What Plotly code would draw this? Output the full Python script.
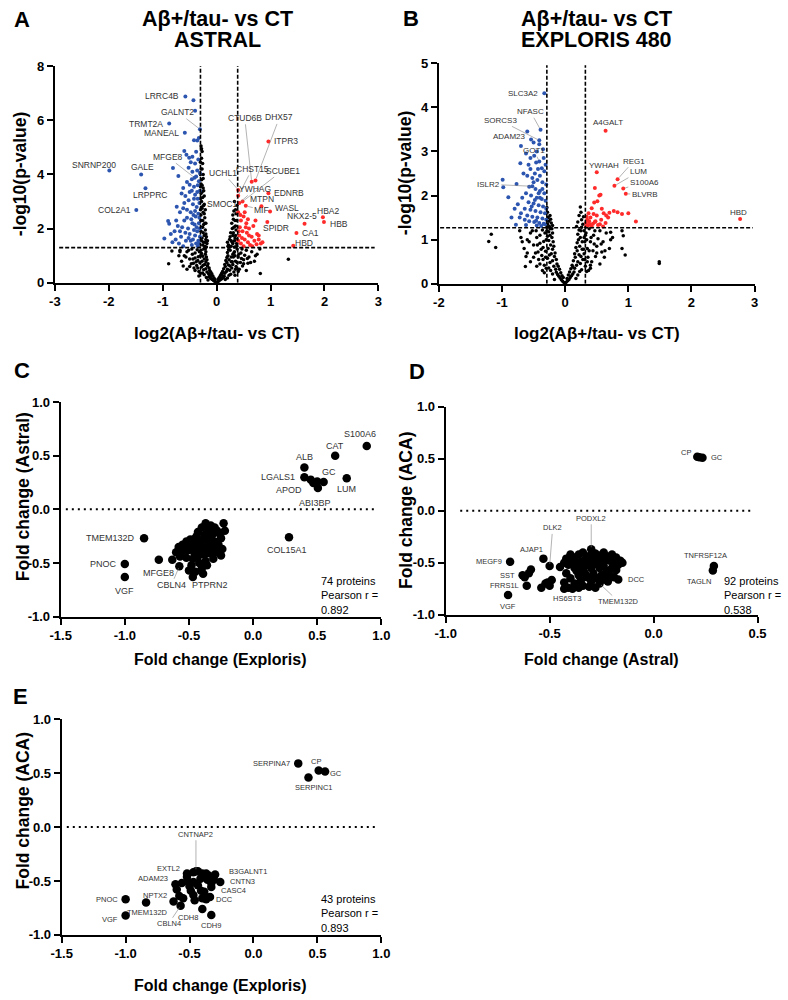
import plotly.graph_objects as go

# ======================= DATA =======================
# ---- Panel A: ASTRAL volcano (log2 FC, -log10 p) ----
A_black = [
    (0.00,0.01),(0.02,0.04),(-0.02,0.03),(0.04,0.07),(-0.04,0.06),(0.06,0.10),(-0.06,0.09),(0.08,0.13),
    (-0.08,0.12),(0.10,0.16),(-0.10,0.15),(0.12,0.20),(-0.12,0.19),(0.14,0.24),(-0.14,0.23),(0.05,0.20),
    (-0.05,0.18),(0.10,0.28),(-0.11,0.27),(0.16,0.12),(-0.16,0.10),(0.20,0.18),(-0.19,0.20),(0.03,0.14),(-0.03,0.12),
    (0.15,0.35),(-0.15,0.33),(0.18,0.42),(-0.18,0.40),(0.12,0.38),(-0.13,0.45),(0.20,0.50),(-0.20,0.52),
    (0.24,0.46),(-0.24,0.48),(0.28,0.55),(-0.28,0.58),(0.16,0.60),(-0.17,0.62),(0.22,0.66),(-0.22,0.68),
    (0.32,0.40),(-0.33,0.42),(0.36,0.60),(-0.37,0.64),(0.42,0.50),(-0.42,0.55),(0.30,0.68),(-0.30,0.35),
    (0.26,0.32),(-0.26,0.36),(0.48,0.62),(-0.50,0.60),(0.55,0.45),(-0.55,0.50),
    (0.19,0.75),(-0.20,0.78),(0.23,0.85),(-0.23,0.88),(0.27,0.95),(-0.26,0.98),(0.30,1.05),(-0.28,1.08),
    (0.33,1.15),(-0.29,1.20),(0.21,1.00),(-0.21,1.05),(0.25,1.20),(-0.24,1.25),(0.35,0.80),(-0.35,0.82),
    (0.40,0.95),(-0.40,0.92),(0.45,1.10),(-0.45,1.05),(0.50,0.85),(-0.50,0.88),(0.55,1.20),(-0.55,1.15),
    (0.60,0.95),(-0.60,1.00),(0.38,1.25),(-0.36,1.22),(0.65,1.15),(-0.68,1.15),(0.70,0.80),(-0.65,0.80),
    (0.29,0.78),(-0.31,0.74),(0.44,0.75),(-0.43,0.72),(0.52,1.02),(-0.52,1.20),(0.34,1.00),(-0.34,0.96),
    (0.58,0.72),(0.75,1.05),(0.80,1.25),
    (-0.07,0.25),(0.07,0.27),(-0.09,0.33),(0.09,0.34),(-0.11,0.40),(0.11,0.42),(-0.14,0.55),(0.13,0.52),
    (-0.16,0.70),(0.15,0.68),(-0.18,0.85),(0.17,0.82),(-0.19,0.95),(0.19,0.93),(-0.20,1.15),(0.20,1.12),
    (-0.21,1.25),(0.22,1.22),(-0.25,0.65),(0.25,0.62),(-0.27,0.80),(0.27,0.78),(-0.30,1.00),(0.31,0.95),
    (-0.32,1.15),(0.32,1.10),(-0.35,0.55),(0.35,0.50),(-0.38,0.78),(0.38,0.75),(-0.40,1.10),(0.41,1.05),
    (-0.44,0.88),(0.46,0.90),(-0.47,0.70),(0.50,0.70),(-0.33,0.25),(0.34,0.28),(-0.23,0.30),(0.23,0.28),
    (-0.40,0.45),(0.40,0.42),(-0.46,1.25),(0.47,1.25),(-0.57,0.95),(0.57,0.90),(-0.62,0.62),(0.63,0.75),
    (-0.70,1.00),(0.72,1.00),
    (1.33,0.87),(0.81,0.34),(-0.89,0.70),(-0.83,1.17),(-0.68,1.20),
    (-0.29,5.05),(-0.27,4.85),(-0.28,4.60),(-0.26,4.40),(-0.29,4.20),(-0.25,4.00),(-0.28,3.80),(-0.27,3.60),
    (-0.24,3.40),(-0.29,3.30),(-0.26,3.15),(-0.28,3.00),(-0.23,2.90),(-0.27,2.75),(-0.25,2.60),(-0.29,2.50),
    (-0.22,2.40),(-0.26,2.30),(-0.24,2.15),(-0.28,2.05),(-0.21,1.95),(-0.25,1.85),(-0.23,1.75),(-0.27,1.65),
    (-0.20,1.60),(-0.24,1.50),(-0.18,1.45),(-0.22,1.35),(-0.26,1.40),(-0.19,1.32),(-0.28,1.55),(-0.20,1.80),
    (-0.22,2.20),(-0.26,2.05),(-0.28,2.80),(-0.25,3.50),
    (-0.27,4.20),(-0.25,3.85),(-0.29,3.65),(-0.23,3.20),(-0.27,3.35),(-0.21,2.70),(-0.24,2.85),(-0.20,2.20),
    (-0.23,2.55),(-0.19,1.70),(-0.17,1.55),(-0.21,1.50),(-0.29,1.90),(-0.29,2.30),(-0.30,2.70),(-0.30,3.10),
    (-0.30,3.55),(-0.30,4.00),(-0.30,4.45),(-0.28,4.95),
    (0.33,3.00),(0.35,2.70),(0.30,2.50),(0.34,2.30),(0.28,2.20),(0.32,2.05),(0.36,1.95),(0.26,1.85),
    (0.30,1.75),(0.34,1.65),(0.24,1.60),(0.29,1.50),(0.37,1.45),(0.22,1.40),(0.27,1.35),(0.33,1.32),
    (0.20,1.50),(0.25,1.70),(0.31,2.35),(0.36,2.55),(0.30,1.45),(0.23,1.32),
    (0.35,2.10),(0.37,2.30),(0.31,1.85),(0.27,1.55),(0.21,1.35),(0.33,1.55),(0.35,1.75),(0.37,1.35),
    (0.29,2.00),(0.32,2.65),(0.38,2.85),(0.38,1.60),
]
A_down = [
    (-0.43,6.74),(-0.40,6.35),(-0.42,5.26),(-0.36,5.25),(-0.38,4.84),(-0.33,5.35),(-0.60,4.87),(-0.56,4.73),
    (-0.51,4.62),(-0.45,4.65),(-0.34,4.55),(-0.48,4.45),(-0.40,4.40),
    (-0.81,4.24),(-0.71,3.94),(-0.52,4.25),(-0.45,4.10),(-0.36,4.15),(-0.55,3.72),(-0.50,3.62),(-0.38,3.92),
    (-0.33,3.75),(-0.42,3.55),(-0.62,3.50),(-0.46,3.82),(-0.31,4.05),(-0.35,3.60),
    (-0.74,2.81),(-0.65,3.30),(-0.58,3.20),(-0.52,3.05),(-0.46,3.40),(-0.40,3.25),(-0.35,3.10),(-0.32,2.95),
    (-0.44,2.90),(-0.37,2.80),(-0.55,2.70),(-0.48,2.60),(-0.62,2.75),(-0.68,2.60),(-0.40,2.65),(-0.34,2.55),
    (-0.31,3.40),(-0.50,3.35),(-0.42,3.10),(-0.60,2.95),(-0.36,3.35),
    (-0.97,1.64),(-0.90,2.28),(-0.88,2.18),(-0.82,1.50),(-0.78,1.90),(-0.72,2.10),(-0.66,1.70),(-0.60,2.30),
    (-0.57,1.55),(-0.53,2.00),(-0.50,1.80),(-0.47,2.35),(-0.44,1.60),(-0.41,2.15),(-0.38,1.45),(-0.36,1.90),
    (-0.33,2.20),(-0.31,1.70),(-0.35,1.35),(-0.42,1.95),(-0.46,1.40),(-0.52,1.65),(-0.58,1.85),(-0.64,2.05),
    (-0.70,1.45),(-0.76,1.60),(-0.85,1.80),(-0.32,2.40),(-0.39,2.45),(-0.45,2.20),(-0.55,2.40),(-0.34,1.55),
    (-0.31,2.00),(-0.37,2.05),(-0.40,1.75),(-0.48,1.55),(-0.62,1.35),(-0.68,1.90),(-0.75,2.30),(-0.33,1.45),
    (-0.43,2.50),
]
A_up = [
    (0.45,2.30),(0.50,2.45),(0.55,2.20),(0.60,2.00),(0.48,1.90),(0.42,1.75),(0.52,1.60),(0.58,1.50),
    (0.65,1.70),(0.70,1.55),(0.75,1.80),(0.78,1.60),(0.62,1.40),(0.45,1.45),(0.68,2.10),(0.56,1.85),
    (0.72,2.30),(0.43,2.05),(0.50,1.35),(0.40,1.55),(0.82,1.45),(0.66,1.35),(0.54,2.05),(0.47,1.65),
    (0.60,1.75),(0.74,1.42),(0.58,2.35),(0.44,2.50),(0.78,1.75),(0.85,1.50),(0.41,1.90),(0.52,2.60),
]
A_named = [
    ("LRRC4B",-0.58,6.88,"down"),("GALNT2",-0.31,5.67,"down"),("TRMT2A",-0.88,5.88,"down"),
    ("MANEAL",-0.59,5.54,"down"),("MFGE8",-0.41,3.88,"down"),("SNRNP200",-1.99,4.15,"down"),
    ("GALE",-1.40,4.00,"down"),("LRPPRC",-1.32,3.49,"down"),("COL2A1",-1.49,2.69,"down"),
    ("CTUD6B",0.65,3.73,"up"),("DHX57",0.72,3.78,"up"),("ITPR3",0.96,5.22,"up"),
    ("UCHL1",0.40,3.43,"up"),("CHST15",0.40,3.21,"up"),("SCUBE1",0.48,3.00,"up"),
    ("YWHAG",0.42,2.95,"up"),("EDNRB",0.96,3.31,"up"),("MTPN",0.83,2.83,"up"),
    ("MIF",0.54,2.84,"up"),("WASL",0.99,2.63,"up"),("SMOC1",0.40,2.60,"up"),
    ("SPIDR",0.94,2.24,"up"),("NKX2-5",1.63,2.18,"up"),("HBA2",1.97,2.42,"up"),
    ("HBB",1.99,2.24,"up"),("CA1",1.48,1.84,"up"),("HBD",1.42,1.37,"up"),
]
A_fc_cut = [-0.30, 0.39]
A_p_cut = 1.30

# ---- Panel B: EXPLORIS 480 volcano ----
B_black = [
    (0.00,0.01),(0.02,0.04),(-0.02,0.03),(0.04,0.07),(-0.04,0.06),(0.06,0.10),(-0.06,0.09),(0.08,0.14),
    (-0.08,0.13),(0.10,0.18),(-0.10,0.17),(0.12,0.22),(-0.12,0.21),(0.14,0.27),(-0.14,0.26),(0.05,0.20),
    (-0.05,0.18),(0.17,0.12),(-0.17,0.10),(0.20,0.20),(-0.20,0.22),(0.03,0.12),(-0.03,0.14),
    (0.15,0.35),(-0.15,0.33),(0.18,0.42),(-0.18,0.40),(0.12,0.38),(-0.13,0.45),(0.20,0.50),(-0.20,0.52),
    (0.24,0.46),(-0.24,0.48),(0.28,0.55),(-0.28,0.58),(0.16,0.60),(-0.17,0.62),(0.22,0.66),(-0.22,0.68),
    (0.32,0.40),(-0.33,0.42),(0.36,0.60),(-0.37,0.64),(0.42,0.50),(-0.42,0.55),(0.30,0.68),(-0.30,0.35),
    (0.26,0.32),(-0.26,0.36),(0.48,0.62),(-0.50,0.60),(0.55,0.45),(-0.55,0.50),(0.40,0.35),(-0.45,0.40),
    (0.19,0.75),(-0.20,0.78),(0.23,0.85),(-0.23,0.88),(0.27,0.95),(-0.26,0.98),(0.30,1.05),(-0.28,1.08),
    (0.33,1.15),(-0.29,1.20),(0.21,1.00),(-0.21,1.05),(0.25,1.20),(-0.24,1.25),(0.35,0.80),(-0.35,0.82),
    (0.40,0.95),(-0.40,0.92),(0.45,1.10),(-0.45,1.05),(0.50,0.85),(-0.50,0.88),(0.55,1.20),(-0.55,1.15),
    (0.60,0.95),(-0.60,1.00),(0.38,1.25),(-0.36,1.22),(0.65,1.15),(-0.68,0.95),(0.70,0.80),(-0.65,0.80),
    (0.29,0.78),(-0.31,0.74),(0.44,0.75),(-0.43,0.72),(0.52,1.02),(-0.52,1.20),(0.34,1.00),(-0.34,0.96),
    (0.58,0.72),(0.75,1.05),(-0.72,1.20),(0.62,0.60),(-0.60,0.70),
    (-0.07,0.25),(0.07,0.27),(-0.09,0.33),(0.09,0.34),(-0.11,0.40),(0.11,0.42),(-0.14,0.55),(0.13,0.52),
    (-0.16,0.70),(0.15,0.68),(-0.18,0.85),(0.17,0.82),(-0.19,0.95),(0.19,0.93),(-0.20,1.15),(0.20,1.12),
    (-0.21,1.25),(0.22,1.22),(-0.25,0.65),(0.25,0.62),(-0.27,0.80),(0.27,0.78),(-0.30,1.00),(0.31,0.95),
    (-0.32,1.15),(0.32,1.10),(-0.35,0.55),(0.35,0.50),(-0.38,0.78),(0.38,0.75),(-0.40,1.10),(0.41,1.05),
    (-0.44,0.88),(0.46,0.90),(-0.47,0.70),(0.50,0.70),(-0.33,0.25),(0.34,0.28),(-0.23,0.30),(0.23,0.28),
    (-0.40,0.45),(0.40,0.42),(-0.46,1.20),(0.47,1.20),(-0.57,0.95),(0.57,0.90),(-0.62,0.62),(0.63,0.75),
    (-0.70,1.05),(0.72,1.00),(-0.26,1.18),(-0.29,1.28),(0.30,1.20),(0.26,1.28),(-0.24,1.10),(0.24,1.05),
    (-0.31,0.60),(0.31,0.55),(-0.36,0.30),(0.37,0.30),
    (-1.17,1.12),(-1.21,0.96),(-1.10,0.82),(-0.63,0.39),(1.49,0.50),(1.49,0.46),(0.90,0.80),(0.95,0.65),
    (0.92,1.09),(0.72,1.17),(0.90,1.20),
    (-0.28,1.35),(-0.26,1.42),(-0.22,1.38),(-0.27,1.50),(-0.24,1.55),(-0.28,1.62),(-0.29,1.73),(-0.25,1.30),
    (-0.20,1.32),(-0.23,1.46),
    (0.24,1.74),(0.22,1.55),(0.26,1.45),(0.28,1.35),(0.20,1.40),(0.18,1.30),(0.25,1.62),(0.29,1.52),
]
B_down = [
    (-0.60,3.45),(-0.50,3.20),(-0.70,3.12),(-0.41,3.16),
    (-0.99,2.36),(-0.98,2.19),(-0.90,1.96),(-0.77,2.26),(-0.75,1.80),(-0.78,1.34),(-0.71,2.73),(-0.72,1.50),
    (-0.45,3.00),(-0.35,3.05),(-0.62,2.95),(-0.46,2.75),(-0.55,2.60),(-0.48,2.50),(-0.40,2.45),(-0.33,2.55),
    (-0.60,2.45),(-0.52,2.40),(-0.44,2.35),(-0.36,2.30),(-0.30,2.25),(-0.57,2.20),(-0.47,2.15),(-0.40,2.10),
    (-0.33,2.05),(-0.62,2.05),(-0.54,2.00),(-0.45,1.95),(-0.37,1.92),(-0.31,1.88),(-0.58,1.85),(-0.50,1.82),
    (-0.42,1.78),(-0.35,1.75),(-0.64,1.70),(-0.55,1.68),(-0.47,1.65),(-0.39,1.62),(-0.32,1.60),(-0.60,1.55),
    (-0.52,1.52),(-0.44,1.50),(-0.36,1.48),(-0.30,1.45),(-0.57,1.42),(-0.49,1.40),(-0.41,1.38),(-0.34,1.36),
    (-0.62,1.33),(-0.45,1.32),(-0.38,1.31),(-0.66,2.50),(-0.85,1.50),(-0.68,1.95),(-0.58,2.70),(-0.43,2.60),
    (-0.31,2.70),(-0.49,2.90),(-0.37,2.62),(-0.53,1.75),(-0.46,1.43),(-0.32,1.35),(-0.40,1.95),(-0.55,2.85),
    (-0.34,2.85),(-0.50,2.30),(-0.42,2.05),(-0.64,1.45),(-0.70,1.60),(-0.80,1.70),(-0.36,2.15),(-0.30,1.70),
    (-0.48,1.90),
]
B_up = [
    (1.00,1.60),(1.12,1.41),(0.77,1.65),(0.70,1.61),(0.61,1.60),(0.54,2.00),(0.51,1.87),(0.56,2.02),
    (0.47,2.17),(0.42,1.71),(0.46,1.84),(0.83,1.62),(0.35,1.45),(0.33,1.38),(0.38,1.42),(0.36,1.32),
    (0.40,1.50),(0.44,1.36),(0.48,1.42),(0.52,1.33),(0.57,1.45),(0.60,1.30),(0.64,1.38),(0.68,1.50),
    (0.34,1.52),(0.39,1.35),(0.45,1.58),(0.50,1.55),(0.55,1.35),(0.42,1.30),(0.37,1.60),(0.58,1.70),
    (0.65,1.55),(0.90,1.58),(0.47,1.40),(0.33,1.30),
]
B_named = [
    ("SLC3A2",-0.33,4.32,"down"),("NFASC",-0.39,3.49,"down"),("SORCS3",-0.41,3.25,"down"),
    ("ADAM23",-0.54,3.27,"down"),("GOT1",-0.41,2.77,"down"),("ISLR2",-0.52,2.21,"down"),
    ("A4GALT",0.64,3.47,"up"),("YWHAH",0.50,2.53,"up"),("REG1",0.83,2.37,"up"),
    ("LUM",0.78,2.22,"up"),("S100A6",0.92,2.16,"up"),("BLVRB",0.96,2.04,"up"),("HBD",2.77,1.47,"up"),
]
B_fc_cut = [-0.29, 0.32]
B_p_cut = 1.27

# ---- Panel C: Exploris (x) vs Astral (y) fold changes ----
C_points = [
    (0.45,0.275),(0.50,0.26),
    (-0.23,-0.13),(-0.37,-0.13),(-0.33,-0.15),(-0.30,-0.17),(-0.28,-0.20),(-0.35,-0.19),(-0.40,-0.17),
    (-0.43,-0.21),(-0.26,-0.23),(-0.32,-0.24),(-0.38,-0.24),(-0.45,-0.27),(-0.49,-0.28),(-0.52,-0.30),
    (-0.55,-0.33),(-0.58,-0.35),(-0.48,-0.33),(-0.44,-0.31),(-0.40,-0.29),(-0.35,-0.28),(-0.30,-0.30),
    (-0.25,-0.27),(-0.22,-0.20),(-0.27,-0.33),(-0.33,-0.35),(-0.38,-0.37),(-0.42,-0.38),(-0.46,-0.40),
    (-0.51,-0.38),(-0.56,-0.40),(-0.60,-0.40),(-0.52,-0.45),(-0.47,-0.46),(-0.43,-0.44),(-0.38,-0.42),
    (-0.34,-0.41),(-0.29,-0.40),(-0.25,-0.43),(-0.31,-0.46),(-0.37,-0.48),(-0.42,-0.50),(-0.48,-0.52),
    (-0.50,-0.57),(-0.45,-0.58),(-0.40,-0.55),(-0.36,-0.52),(-0.53,-0.36),(-0.35,-0.33),(-0.28,-0.36),
    (-0.41,-0.33),(-0.47,-0.36),(-0.31,-0.22),(-0.44,-0.25),(-0.57,-0.44),(-0.24,-0.37),(-0.39,-0.60),
    (-0.63,-0.47),
]
C_named = [
    ("S100A6",0.886,0.59),("CAT",0.64,0.50),("ALB",0.40,0.39),("LGALS1",0.40,0.30),("GC",0.55,0.255),
    ("APOD",0.47,0.245),("ABI3BP",0.505,0.20),("LUM",0.73,0.29),("TMEM132D",-0.85,-0.27),
    ("PNOC",-1.00,-0.51),("VGF",-1.00,-0.63),("COL15A1",0.28,-0.26),("MFGE8",-0.735,-0.47),
    ("CBLN4",-0.575,-0.53),("PTPRN2",-0.47,-0.63),
]
C_stats = ["74 proteins", "Pearson r =", "0.892"]

# ---- Panel D: Astral (x) vs ACA (y) fold changes ----
D_points = [
    (0.22,0.515),(-0.59,-0.565),(-0.60,-0.60),(-0.62,-0.64),(-0.52,-0.70),(-0.54,-0.74),(-0.49,-0.665),
    (-0.51,-0.69),(-0.50,-0.72),
    (-0.45,-0.54),(-0.42,-0.46),(-0.40,-0.42),(-0.38,-0.45),(-0.36,-0.42),(-0.34,-0.40),(-0.32,-0.44),
    (-0.28,-0.41),(-0.26,-0.43),(-0.24,-0.40),(-0.22,-0.44),(-0.20,-0.42),(-0.18,-0.45),(-0.16,-0.48),
    (-0.15,-0.50),(-0.17,-0.52),(-0.19,-0.50),(-0.21,-0.48),(-0.23,-0.47),(-0.25,-0.50),(-0.27,-0.47),
    (-0.29,-0.45),(-0.31,-0.48),(-0.33,-0.47),(-0.35,-0.49),(-0.37,-0.50),(-0.39,-0.48),(-0.41,-0.52),
    (-0.43,-0.50),(-0.36,-0.53),(-0.32,-0.52),(-0.28,-0.51),(-0.24,-0.53),(-0.20,-0.55),(-0.26,-0.55),
    (-0.30,-0.55),(-0.34,-0.56),(-0.38,-0.55),(-0.22,-0.58),(-0.18,-0.57),(-0.40,-0.44),(-0.30,-0.42),
    (-0.24,-0.46),
    (-0.42,-0.60),(-0.40,-0.65),(-0.43,-0.69),(-0.41,-0.74),(-0.38,-0.70),(-0.36,-0.62),(-0.35,-0.67),
    (-0.34,-0.72),(-0.32,-0.64),(-0.30,-0.68),(-0.29,-0.60),(-0.28,-0.74),(-0.27,-0.65),(-0.24,-0.66),
    (-0.23,-0.60),(-0.21,-0.62),(-0.19,-0.64),(-0.25,-0.62),(-0.33,-0.60),(-0.37,-0.58),(-0.39,-0.75),
    (-0.31,-0.73),(-0.22,-0.68),(-0.36,-0.74),(-0.29,-0.63),
]
D_named = [
    ("CP",0.21,0.52),("GC",0.235,0.51),("TNFRSF12A",0.29,-0.53),("TAGLN",0.285,-0.575),
    ("MEGF9",-0.69,-0.49),("SST",-0.63,-0.62),("FRRS1L",-0.61,-0.72),("VGF",-0.70,-0.81),
    ("AJAP1",-0.53,-0.46),("DLK2",-0.50,-0.53),("PODXL2",-0.30,-0.37),("DCC",-0.17,-0.66),
    ("HS6ST3",-0.43,-0.75),("TMEM132D",-0.26,-0.70),
]
D_stats = ["92 proteins", "Pearson r =", "0.538"]

# ---- Panel E: Exploris (x) vs ACA (y) fold changes ----
E_points = [
    (-0.60,-0.58),(-0.56,-0.52),(-0.52,-0.46),(-0.47,-0.51),(-0.49,-0.59),(-0.47,-0.63),(-0.46,-0.68),
    (-0.41,-0.59),(-0.385,-0.60),(-0.40,-0.43),(-0.37,-0.43),(-0.35,-0.45),(-0.36,-0.49),(-0.33,-0.52),
    (-0.31,-0.49),(-0.415,-0.48),(-0.435,-0.54),(-0.51,-0.51),(-0.55,-0.66),(-0.58,-0.64),(-0.34,-0.65),
    (-0.40,-0.66),(-0.47,-0.42),(-0.435,-0.41),(-0.50,-0.55),
]
E_named = [
    ("SERPINA7",0.35,0.59),("SERPINC1",0.43,0.46),("CP",0.51,0.525),("GC",0.56,0.515),
    ("PNOC",-1.00,-0.67),("VGF",-1.00,-0.82),("TMEM132D",-0.84,-0.70),("NPTX2",-0.625,-0.69),
    ("ADAM23",-0.61,-0.53),("CBLN4",-0.57,-0.73),("EXTL2",-0.52,-0.43),("CNTNAP2",-0.45,-0.41),
    ("B3GALNT1",-0.30,-0.44),("CNTN3",-0.26,-0.51),("CASC4",-0.33,-0.555),("DCC",-0.37,-0.67),
    ("CDH8",-0.40,-0.76),("CDH9",-0.33,-0.815),
]
E_stats = ["43 proteins", "Pearson r =", "0.893"]

# ---- tick values ----
A_xticks = [-3, -2, -1, 0, 1, 2, 3]
A_yticks = [0, 2, 4, 6, 8]
B_xticks = [-2, -1, 0, 1, 2, 3]
B_yticks = [0, 1, 2, 3, 4, 5]
FC_xticks_wide = [-1.5, -1.0, -0.5, 0.0, 0.5, 1.0]
FC_xticks_D = [-1.0, -0.5, 0.0, 0.5]
FC_yticks = [-1.0, -0.5, 0.0, 0.5, 1.0]

# ======================= STYLE / LAYOUT =======================
W, H = 788, 1000
FONT = "Liberation Sans, Arial, Helvetica, sans-serif"
BLUE = "#2c55b0"
RED = "#ff2a2a"


def fx(px):
    return px / W


def fy(py):
    return 1 - py / H


# label placement: (mode, dx, dy) in pixels; 'c' centre, 'r' text left of point,
# 'L' text right of point, 'lead' label joined by a leader line
POS_A = {
    "LRRC4B": ("r", -4, 0), "GALNT2": ("lead", -22, -17), "TRMT2A": ("r", -4, 0),
    "MANEAL": ("r", -4, 0), "MFGE8": ("lead", -27, -21), "SNRNP200": ("c", -15, -5),
    "GALE": ("c", 1, -7), "LRPPRC": ("c", 5, 7), "COL2A1": ("r", -3, 0),
    "CTUD6B": ("lead", -7, -64), "DHX57": ("lead", 24, -63), "ITPR3": ("L", 4, 0),
    "UCHL1": ("lead", -15, -17), "CHST15": ("lead", 14, -27), "SCUBE1": ("lead", 40, -31),
    "YWHAG": ("lead", 16, -14), "EDNRB": ("L", 4, 0), "MTPN": ("c", 1, -7),
    "MIF": ("lead", 16, 4), "WASL": ("L", 3, -4), "SMOC1": ("lead", -16, -8),
    "SPIDR": ("c", 9, 6), "NKX2-5": ("c", -3, -8), "HBA2": ("c", 5, -6),
    "HBB": ("L", 4, 2), "CA1": ("L", 4, 0), "HBD": ("c", 11, -3),
}
POS_B = {
    "SLC3A2": ("r", -4, 0), "NFASC": ("lead", -10, -18), "SORCS3": ("lead", -39, -20),
    "ADAM23": ("r", -3, -3), "GOT1": ("lead", -5, -11), "ISLR2": ("lead", -44, -2),
    "A4GALT": ("c", 2, -8), "YWHAH": ("c", 7, -7), "REG1": ("lead", 16, -18),
    "LUM": ("lead", 24, -14), "S100A6": ("lead", 21, -6), "BLVRB": ("lead", 19, 1),
    "HBD": ("c", -2, -6),
}
POS_C = {
    "S100A6": ("c", -7, -12), "CAT": ("c", 0, -10), "ALB": ("c", 0, -10),
    "LGALS1": ("r", -7, 0), "GC": ("c", 5, -10), "APOD": ("c", -24, 7),
    "ABI3BP": ("c", -3, 15), "LUM": ("c", 0, 11), "TMEM132D": ("r", -7, 0),
    "PNOC": ("r", -6, 0), "VGF": ("c", 0, 14), "COL15A1": ("c", -2, 13),
    "MFGE8": ("c", 0, 13), "CBLN4": ("lead", -8, 19), "PTPRN2": ("c", 17, 8),
}
POS_D = {
    "CP": ("r", -4, -4), "GC": ("L", 7, 0), "TNFRSF12A": ("c", -8, -10),
    "TAGLN": ("c", -14, 11), "MEGF9": ("r", -6, 0), "SST": ("r", -6, 0),
    "FRRS1L": ("r", -6, 0), "VGF": ("c", 0, 11), "AJAP1": ("c", -12, -9),
    "DLK2": ("lead", 3, -38), "PODXL2": ("lead", 0, -31), "DCC": ("L", 8, 0),
    "HS6ST3": ("c", 3, 10), "TMEM132D": ("lead", 19, 18),
}
POS_E = {
    "SERPINA7": ("r", -6, 0), "CP": ("c", -3, -9), "GC": ("c", 11, 2),
    "SERPINC1": ("c", 6, 10), "PNOC": ("r", -6, 0), "VGF": ("r", -6, 4),
    "TMEM132D": ("c", 1, 10), "NPTX2": ("r", -5, -6), "ADAM23": ("r", -5, -6),
    "CBLN4": ("lead", -12, 18), "EXTL2": ("r", -5, -5), "CNTNAP2": ("lead", 0, -37),
    "B3GALNT1": ("L", 12, -3), "CNTN3": ("L", 8, -1), "CASC4": ("L", 8, 4),
    "DCC": ("L", 8, 0), "CDH8": ("c", -14, 9), "CDH9": ("c", 0, 11),
}

fig = go.Figure()
annotations = []
shapes = []


def scatter(points, xa, ya, color, size):
    fig.add_trace(go.Scatter(
        x=[p[0] for p in points], y=[p[1] for p in points], xaxis=xa, yaxis=ya,
        mode="markers", cliponaxis=False, hoverinfo="skip",
        marker=dict(color=color, size=size, line=dict(width=0)),
    ))


def add_label(xa, ya, name, x, y, spec, size, color="#333333"):
    mode, dx, dy = spec
    font = dict(family=FONT, size=size, color=color)
    if mode == "lead":
        annotations.append(dict(
            x=x, y=y, xref=xa, yref=ya, text=name, showarrow=True, ax=dx, ay=dy,
            arrowhead=0, arrowwidth=0.6, arrowcolor="#808080", standoff=2, startstandoff=0,
            font=font,
        ))
    else:
        anchor = {"c": "center", "r": "right", "L": "left"}[mode]
        annotations.append(dict(
            x=x, y=y, xref=xa, yref=ya, text=name, showarrow=False, xanchor=anchor,
            yanchor="middle", xshift=dx, yshift=-dy, font=font,
        ))


def text(px, py, s, size, bold=True, angle=0, xanchor="center", align="center", color="black"):
    annotations.append(dict(
        x=fx(px), y=fy(py), xref="paper", yref="paper", text=s, showarrow=False,
        xanchor=xanchor, yanchor="middle", textangle=angle, align=align,
        font=dict(family=FONT, size=size, color=color, weight="bold" if bold else "normal"),
    ))


def line(xa, ya, x0, y0, x1, y1, dash, width):
    shapes.append(dict(type="line", xref=xa, yref=ya, x0=x0, y0=y0, x1=x1, y1=y1,
                       line=dict(color="black", width=width, dash=dash)))


def axis(domain, rng, ticks, fmt, anchor):
    return dict(
        domain=domain, range=rng, tickvals=ticks, ticktext=[fmt(v) for v in ticks],
        anchor=anchor, showline=True, linecolor="black", linewidth=2, ticks="outside",
        ticklen=6, tickwidth=2, tickcolor="black", showgrid=False, zeroline=False,
        tickfont=dict(family=FONT, size=13, color="black", weight="bold"), fixedrange=True,
    )


def int_fmt(v):
    return str(int(v))


def one_dec(v):
    return f"{v:.1f}"


# ---------- Panel A ----------
scatter(A_black, "x", "y", "black", 3.5)
scatter(A_down + [(p[1], p[2]) for p in A_named if p[3] == "down"], "x", "y", BLUE, 4)
scatter(A_up + [(p[1], p[2]) for p in A_named if p[3] == "up"], "x", "y", RED, 4)
for n, x, y, g in A_named:
    add_label("x", "y", n, x, y, POS_A[n], 8.5)
line("x", "y", A_fc_cut[0], 0, A_fc_cut[0], 8, "4px,2px", 1.6)
line("x", "y", A_fc_cut[1], 0, A_fc_cut[1], 8, "4px,2px", 1.6)
line("x", "y", -2.92, A_p_cut, 2.93, A_p_cut, "4px,2px", 1.6)

# ---------- Panel B ----------
scatter(B_black, "x2", "y2", "black", 3.5)
scatter(B_down + [(p[1], p[2]) for p in B_named if p[3] == "down"], "x2", "y2", BLUE, 4)
scatter(B_up + [(p[1], p[2]) for p in B_named if p[3] == "up"], "x2", "y2", RED, 4)
for n, x, y, g in B_named:
    add_label("x2", "y2", n, x, y, POS_B[n], 8)
line("x2", "y2", B_fc_cut[0], 0, B_fc_cut[0], 4.95, "4px,2px", 1.6)
line("x2", "y2", B_fc_cut[1], 0, B_fc_cut[1], 4.95, "4px,2px", 1.6)
line("x2", "y2", -1.98, B_p_cut, 2.97, B_p_cut, "4px,2px", 1.6)

# ---------- Panels C, D, E ----------
line("x3", "y3", -1.46, 0, 0.96, 0, "2px,4px", 2)
line("x4", "y4", -0.93, 0, 0.47, 0, "2px,4px", 2)
line("x5", "y5", -1.46, 0, 0.96, 0, "2px,4px", 2)
scatter(C_points + [(p[1], p[2]) for p in C_named], "x3", "y3", "black", 8.5)
scatter(D_points + [(p[1], p[2]) for p in D_named], "x4", "y4", "black", 8.5)
scatter(E_points + [(p[1], p[2]) for p in E_named], "x5", "y5", "black", 8.5)
for n, x, y in C_named:
    add_label("x3", "y3", n, x, y, POS_C[n], 9)
for n, x, y in D_named:
    add_label("x4", "y4", n, x, y, POS_D[n], 7.5)
for n, x, y in E_named:
    add_label("x5", "y5", n, x, y, POS_E[n], 7.5)

# ---------- titles, panel letters, axis titles ----------
for letter, px, py in [("A", 11, 13), ("B", 410, 12), ("C", 11, 369), ("D", 417, 370), ("E", 10, 700)]:
    text(px, py, letter, 22)
text(212, 12, "Aβ+/tau- vs CT", 21.5)
text(212, 33, "ASTRAL", 21.5)
text(601, 12, "Aβ+/tau- vs CT", 21.5)
text(601, 33, "EXPLORIS 480", 21.5)

text(211, 331, "log2(Aβ+/tau- vs CT)", 17)
text(601, 331, "log2(Aβ+/tau- vs CT)", 17)
text(10, 170, "-log10(p-value)", 17.5, angle=-90)
text(405, 169, "-log10(p-value)", 17.5, angle=-90)
text(12, 497, "Fold change (Astral)", 17.5, angle=-90)
text(214, 662, "Fold change (Exploris)", 16)
text(406, 511, "Fold change (ACA)", 17.5, angle=-90)
text(606, 662, "Fold change (Astral)", 16)
text(12, 816, "Fold change (ACA)", 17.5, angle=-90)
text(214, 993, "Fold change (Exploris)", 16)

text(316, 597, "<br>".join(C_stats), 11, bold=False, xanchor="left", align="left")
text(730, 597, "<br>".join(D_stats), 11, bold=False, xanchor="left", align="left")
text(316, 920, "<br>".join(E_stats), 11, bold=False, xanchor="left", align="left")

fig.update_layout(
    width=W, height=H, margin=dict(l=0, r=0, t=0, b=0),
    paper_bgcolor="white", plot_bgcolor="white", showlegend=False,
    font=dict(family=FONT),
    xaxis=axis([fx(45), fx(377)], [-3, 3], A_xticks, int_fmt, "y"),
    yaxis=axis([fy(280), fy(60)], [0, 8], A_yticks, int_fmt, "x"),
    xaxis2=axis([fx(439), fx(763)], [-2, 3], B_xticks, int_fmt, "y2"),
    yaxis2=axis([fy(281), fy(57)], [0, 5], B_yticks, int_fmt, "x2"),
    xaxis3=axis([fx(51), fx(380)], [-1.5, 1.0], FC_xticks_wide, one_dec, "y3"),
    yaxis3=axis([fy(619), fy(401)], [-1, 1], FC_yticks, one_dec, "x3"),
    xaxis4=axis([fx(446), fx(766)], [-1.0, 0.5], FC_xticks_D, one_dec, "y4"),
    yaxis4=axis([fy(617), fy(406)], [-1, 1], FC_yticks, one_dec, "x4"),
    xaxis5=axis([fx(52), fx(380)], [-1.5, 1.0], FC_xticks_wide, one_dec, "y5"),
    yaxis5=axis([fy(942), fy(723)], [-1, 1], FC_yticks, one_dec, "x5"),
    annotations=annotations, shapes=shapes,
)

fig.write_html("out.html")
